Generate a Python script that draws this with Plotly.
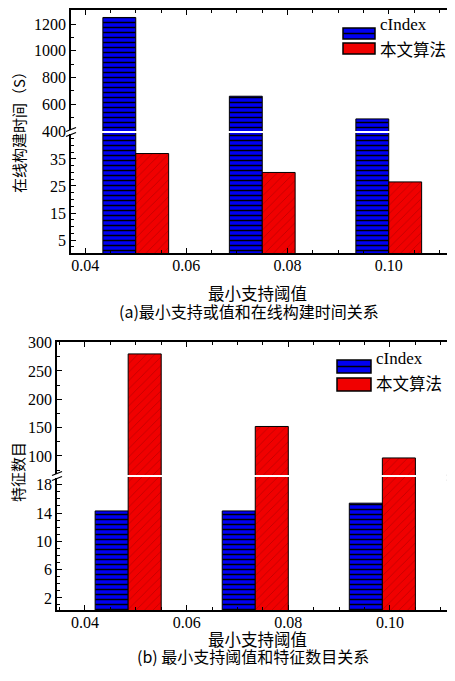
import plotly.graph_objects as go

# ---------------- data ----------------
thresholds = [0.05, 0.075, 0.10]
series_names = ["cIndex", "本文算法"]
# (a) online build time (S)
time_cindex = [1250, 660, 490]
time_ours = [37, 30, 26.5]
# (b) number of features
feat_cindex = [14.3, 14.3, 15.4]
feat_ours = [280, 152, 96.5]
x_tickvals = [0.04, 0.06, 0.08, 0.10]
x_ticktext = ["0.04", "0.06", "0.08", "0.10"]

W, H = 455, 681
OFF = 8  # page body margin offset

def X(px):
    return (px - OFF) / W
def Y(py):
    return 1 - (py - OFF) / H

BLUE = "#0000f2"
RED = "#f00000"
NUM_FONT = "Liberation Serif"
CJK_FONT = "Noto Sans CJK SC"
BW = 0.0065     # bar width
SHIFT_B = 0.0015

blue_marker = dict(color=BLUE, line=dict(color="black", width=1),
                   pattern=dict(shape="-", fgcolor="black", bgcolor=BLUE,
                                size=5, solidity=0.3, fillmode="replace"))
red_marker = dict(color=RED, line=dict(color="black", width=1),
                  pattern=dict(shape="/", fgcolor="#b80000", bgcolor=RED,
                               size=6, solidity=0.12, fillmode="replace"))

fig = go.Figure()
# top chart
for ya in ["y", "y2"]:
    fig.add_trace(go.Bar(x=thresholds, y=time_cindex, name=series_names[0], width=BW, offset=-BW,
                         marker=blue_marker, xaxis="x", yaxis=ya, showlegend=False))
fig.add_trace(go.Bar(x=thresholds, y=time_ours, name=series_names[1], width=BW, offset=0,
                     marker=red_marker, xaxis="x", yaxis="y", showlegend=False))
# bottom chart
fig.add_trace(go.Bar(x=thresholds, y=feat_cindex, name=series_names[0], width=BW, offset=-BW - SHIFT_B,
                     marker=blue_marker, xaxis="x2", yaxis="y3", showlegend=False))
for ya in ["y3", "y4"]:
    fig.add_trace(go.Bar(x=thresholds, y=feat_ours, name=series_names[1], width=BW, offset=-SHIFT_B,
                         marker=red_marker, xaxis="x2", yaxis=ya, showlegend=False))
# empty traces to realise top mirror axes
fig.add_trace(go.Scatter(x=[], y=[], xaxis="x3", yaxis="y2", showlegend=False, hoverinfo="skip"))
fig.add_trace(go.Scatter(x=[], y=[], xaxis="x4", yaxis="y4", showlegend=False, hoverinfo="skip"))

tickfont = dict(family=NUM_FONT, size=16, color="black")
LW = 1.6

def xax(dom, rng, anchor, top=False, overlay=None):
    d = dict(domain=dom, range=rng, anchor=anchor, showline=True, linecolor="black", linewidth=LW,
             ticks="inside", ticklen=5, tickwidth=1.2, tickcolor="black",
             tickmode="array", tickvals=x_tickvals, ticktext=x_ticktext,
             minor=dict(tickmode="linear", tick0=0.04, dtick=0.005, ticks="inside", ticklen=3,
                        tickcolor="black", tickwidth=1),
             showgrid=False, zeroline=False, tickfont=tickfont, fixedrange=True, automargin=False)
    if top:
        d.update(side="top", showticklabels=False, overlaying=overlay)
    else:
        d.update(ticklabelstandoff=-3)
    return d

def yax(dom, rng, anchor, tick0, dtick, mdtick):
    return dict(domain=dom, range=rng, anchor=anchor, showline=True, linecolor="black", linewidth=LW,
                mirror="ticks", ticks="inside", ticklen=5, tickwidth=1.2, tickcolor="black",
                tickmode="linear", tick0=tick0, dtick=dtick,
                minor=dict(tickmode="linear", tick0=tick0, dtick=mdtick, ticks="inside", ticklen=3,
                           tickcolor="black", tickwidth=1),
                showgrid=False, zeroline=False, tickfont=tickfont, fixedrange=True, automargin=False)

fig.update_layout(
    width=W, height=H, margin=dict(l=0, r=0, t=0, b=0, autoexpand=False),
    paper_bgcolor="white", plot_bgcolor="rgba(0,0,0,0)", barmode="overlay", showlegend=False,
    xaxis=xax([X(71), X(453)], [0.0372, 0.1127], "y"),
    xaxis3=xax([X(71), X(453)], [0.0372, 0.1127], "y2", top=True, overlay="x"),
    xaxis2=xax([X(57), X(452)], [0.0345, 0.1122], "y3"),
    xaxis4=xax([X(57), X(452)], [0.0345, 0.1122], "y4", top=True, overlay="x2"),
    yaxis=yax([Y(253), Y(133)], [0.2, 44.6], "x", 5, 10, 2.5),
    yaxis2=yax([Y(131), Y(10)], [399.5, 1306], "x", 400, 200, 100),
    yaxis3=yax([Y(610), Y(477)], [0.29, 19.1], "x2", 2, 4, 1),
    yaxis4=yax([Y(475), Y(342)], [66.4, 301], "x2", 0, 50, 25),
)

shapes = []
annotations = []

def brk(xp, yp):
    # break marker on axis line
    shapes.append(dict(type="rect", xref="paper", yref="paper", x0=X(xp - 5), x1=X(xp + 5),
                       y0=Y(yp + 2), y1=Y(yp - 2), fillcolor="white", line=dict(width=0), layer="above"))
    for dy in (-2.5, 2.5):
        shapes.append(dict(type="line", xref="paper", yref="paper", x0=X(xp - 5), x1=X(xp + 5),
                           y0=Y(yp + dy + 2), y1=Y(yp + dy - 2), line=dict(color="black", width=1.3),
                           layer="above"))

brk(71, 132); brk(453, 132)
brk(57, 476); brk(452, 476)

def legend(x0, y_blue, y_red, sw_w, sw_h, tx, ty1, ty2):
    shapes.append(dict(type="rect", xref="paper", yref="paper", x0=X(x0 - 4), x1=X(450),
                       y0=Y(ty2 + 11), y1=Y(ty1 - 11), fillcolor="white", line=dict(width=0), layer="above"))
    shapes.append(dict(type="rect", xref="paper", yref="paper", x0=X(x0), x1=X(x0 + sw_w),
                       y0=Y(y_blue + sw_h), y1=Y(y_blue), fillcolor=BLUE,
                       line=dict(color="black", width=1.5), layer="above"))
    shapes.append(dict(type="line", xref="paper", yref="paper", x0=X(x0), x1=X(x0 + sw_w),
                       y0=Y(y_blue + sw_h / 2), y1=Y(y_blue + sw_h / 2),
                       line=dict(color="black", width=1.5), layer="above"))
    shapes.append(dict(type="rect", xref="paper", yref="paper", x0=X(x0), x1=X(x0 + sw_w),
                       y0=Y(y_red + sw_h), y1=Y(y_red), fillcolor=RED,
                       line=dict(color="black", width=1.5), layer="above"))
    annotations.append(dict(x=X(tx), y=Y(ty1), xref="paper", yref="paper", text=series_names[0],
                            showarrow=False, xanchor="left", yanchor="middle",
                            font=dict(family=NUM_FONT, size=17, color="black")))
    annotations.append(dict(x=X(tx), y=Y(ty2), xref="paper", yref="paper", text=series_names[1],
                            showarrow=False, xanchor="left", yanchor="middle",
                            font=dict(family=CJK_FONT, size=16.5, color="black")))

legend(343, 28, 43, 32, 11, 378, 25, 49)
legend(337, 360, 378, 34, 13, 374, 358, 383)

def txt(x, y, s, size, font=CJK_FONT, angle=0):
    annotations.append(dict(x=X(x), y=Y(y), xref="paper", yref="paper", text=s, showarrow=False,
                            xanchor="center", yanchor="middle", textangle=angle,
                            font=dict(family=font, size=size, color="black")))

txt(18, 129, "在线构建时间（S）", 15, angle=-90)
txt(17, 472, "特征数目", 15, angle=-90)
txt(257, 293, "最小支持阈值", 16.5)
txt(249, 311, "(a)最小支持或值和在线构建时间关系", 16)
txt(257, 639, "最小支持阈值", 16.5)
txt(253, 656, "(b) 最小支持阈值和特征数目关系", 16)

fig.update_layout(shapes=shapes, annotations=annotations)
fig.write_html("out.html")
